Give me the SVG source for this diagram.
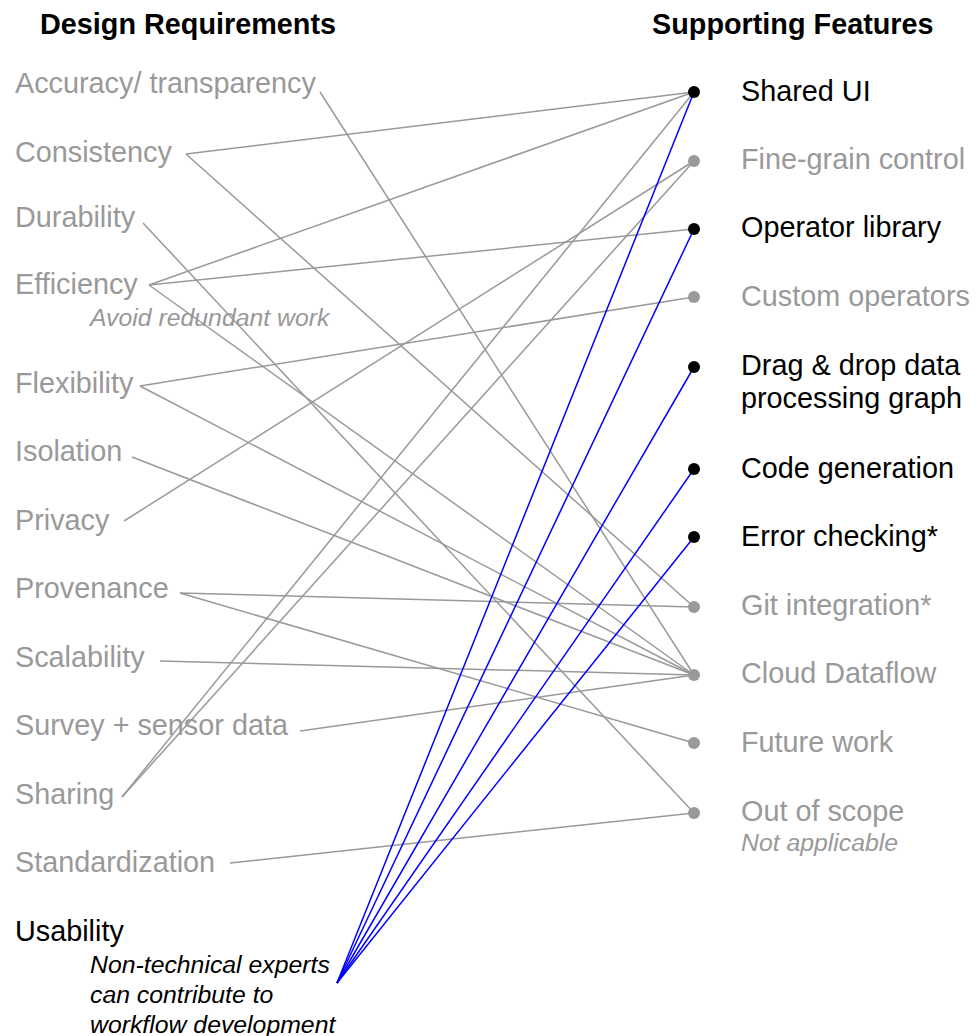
<svg xmlns="http://www.w3.org/2000/svg" width="976" height="1036" viewBox="0 0 976 1036">
<style>
text{font-family:"Liberation Sans",Arial,sans-serif;font-size:28.8px}
.h{font-weight:bold;fill:#000}
.g{fill:#999}
.k{fill:#000}
.i{font-style:italic;font-size:24.8px}
.gl{stroke:#999;stroke-width:1.5;fill:none}
.bl{stroke:#0000ff;stroke-width:1.5;fill:none}
.dg{fill:#999}
.dk{fill:#000}
</style>
<rect width="976" height="1036" fill="#fff"/>
<text class="h" x="40" y="34">Design Requirements</text>
<text class="h" x="652" y="34">Supporting Features</text>
<g id="connectors">
<line class="gl" x1="320" y1="92" x2="694" y2="675"/>
<line class="gl" x1="186" y1="154" x2="694" y2="92"/>
<line class="gl" x1="186" y1="154" x2="694" y2="607"/>
<line class="gl" x1="143" y1="223" x2="694" y2="813"/>
<line class="gl" x1="149" y1="285" x2="694" y2="92"/>
<line class="gl" x1="149" y1="285" x2="694" y2="229"/>
<line class="gl" x1="149" y1="285" x2="694" y2="675"/>
<line class="gl" x1="140" y1="386" x2="694" y2="297"/>
<line class="gl" x1="140" y1="386" x2="694" y2="675"/>
<line class="gl" x1="132" y1="457" x2="694" y2="675"/>
<line class="gl" x1="124" y1="521" x2="694" y2="161"/>
<line class="gl" x1="180" y1="593" x2="694" y2="607"/>
<line class="gl" x1="180" y1="593" x2="694" y2="743"/>
<line class="gl" x1="160" y1="661" x2="694" y2="675"/>
<line class="gl" x1="300" y1="731" x2="694" y2="675"/>
<line class="gl" x1="122" y1="797" x2="694" y2="92"/>
<line class="gl" x1="122" y1="797" x2="694" y2="161"/>
<line class="gl" x1="230" y1="863" x2="694" y2="813"/>
<line class="bl" x1="337" y1="983" x2="694" y2="92"/>
<line class="bl" x1="337" y1="983" x2="694" y2="229"/>
<line class="bl" x1="337" y1="983" x2="694" y2="367"/>
<line class="bl" x1="337" y1="983" x2="694" y2="469"/>
<line class="bl" x1="337" y1="983" x2="694" y2="537"/>
</g>
<g id="req-accuracy"><text class="g" x="15" y="93">Accuracy/ transparency</text></g>
<g id="req-consistency"><text class="g" x="15" y="162">Consistency</text></g>
<g id="req-durability"><text class="g" x="15" y="227">Durability</text></g>
<g id="req-efficiency"><text class="g" x="15" y="294">Efficiency</text><text class="g i" x="90" y="326">Avoid redundant work</text></g>
<g id="req-flexibility"><text class="g" x="15" y="393">Flexibility</text></g>
<g id="req-isolation"><text class="g" x="15" y="461">Isolation</text></g>
<g id="req-privacy"><text class="g" x="15" y="530">Privacy</text></g>
<g id="req-provenance"><text class="g" x="15" y="598">Provenance</text></g>
<g id="req-scalability"><text class="g" x="15" y="667">Scalability</text></g>
<g id="req-survey"><text class="g" x="15" y="735">Survey + sensor data</text></g>
<g id="req-sharing"><text class="g" x="15" y="804">Sharing</text></g>
<g id="req-standardization"><text class="g" x="15" y="872">Standardization</text></g>
<g id="req-usability"><text class="k" x="15" y="941">Usability</text>
<text class="k i" x="90" y="973">Non-technical experts</text>
<text class="k i" x="90" y="1003">can contribute to</text>
<text class="k i" x="90" y="1033">workflow development</text></g>
<g id="feat-shared-ui"><circle class="dk" cx="694" cy="92" r="6"/><text class="k" x="741" y="101">Shared UI</text></g>
<g id="feat-fine-grain"><circle class="dg" cx="694" cy="161" r="6"/><text class="g" x="741" y="169">Fine-grain control</text></g>
<g id="feat-operator-library"><circle class="dk" cx="694" cy="229" r="6"/><text class="k" x="741" y="237">Operator library</text></g>
<g id="feat-custom-operators"><circle class="dg" cx="694" cy="297" r="6"/><text class="g" x="741" y="306">Custom operators</text></g>
<g id="feat-drag-drop"><circle class="dk" cx="694" cy="367" r="6"/><text class="k" x="741" y="375">Drag &amp; drop data</text><text class="k" x="741" y="408">processing graph</text></g>
<g id="feat-code-gen"><circle class="dk" cx="694" cy="469" r="6"/><text class="k" x="741" y="478">Code generation</text></g>
<g id="feat-error-checking"><circle class="dk" cx="694" cy="537" r="6"/><text class="k" x="741" y="546">Error checking*</text></g>
<g id="feat-git"><circle class="dg" cx="694" cy="607" r="6"/><text class="g" x="741" y="615">Git integration*</text></g>
<g id="feat-cloud-dataflow"><circle class="dg" cx="694" cy="675" r="6"/><text class="g" x="741" y="683">Cloud Dataflow</text></g>
<g id="feat-future-work"><circle class="dg" cx="694" cy="743" r="6"/><text class="g" x="741" y="752">Future work</text></g>
<g id="feat-out-of-scope"><circle class="dg" cx="694" cy="813" r="6"/><text class="g" x="741" y="821">Out of scope</text><text class="g i" x="741" y="851">Not applicable</text></g>
</svg>
